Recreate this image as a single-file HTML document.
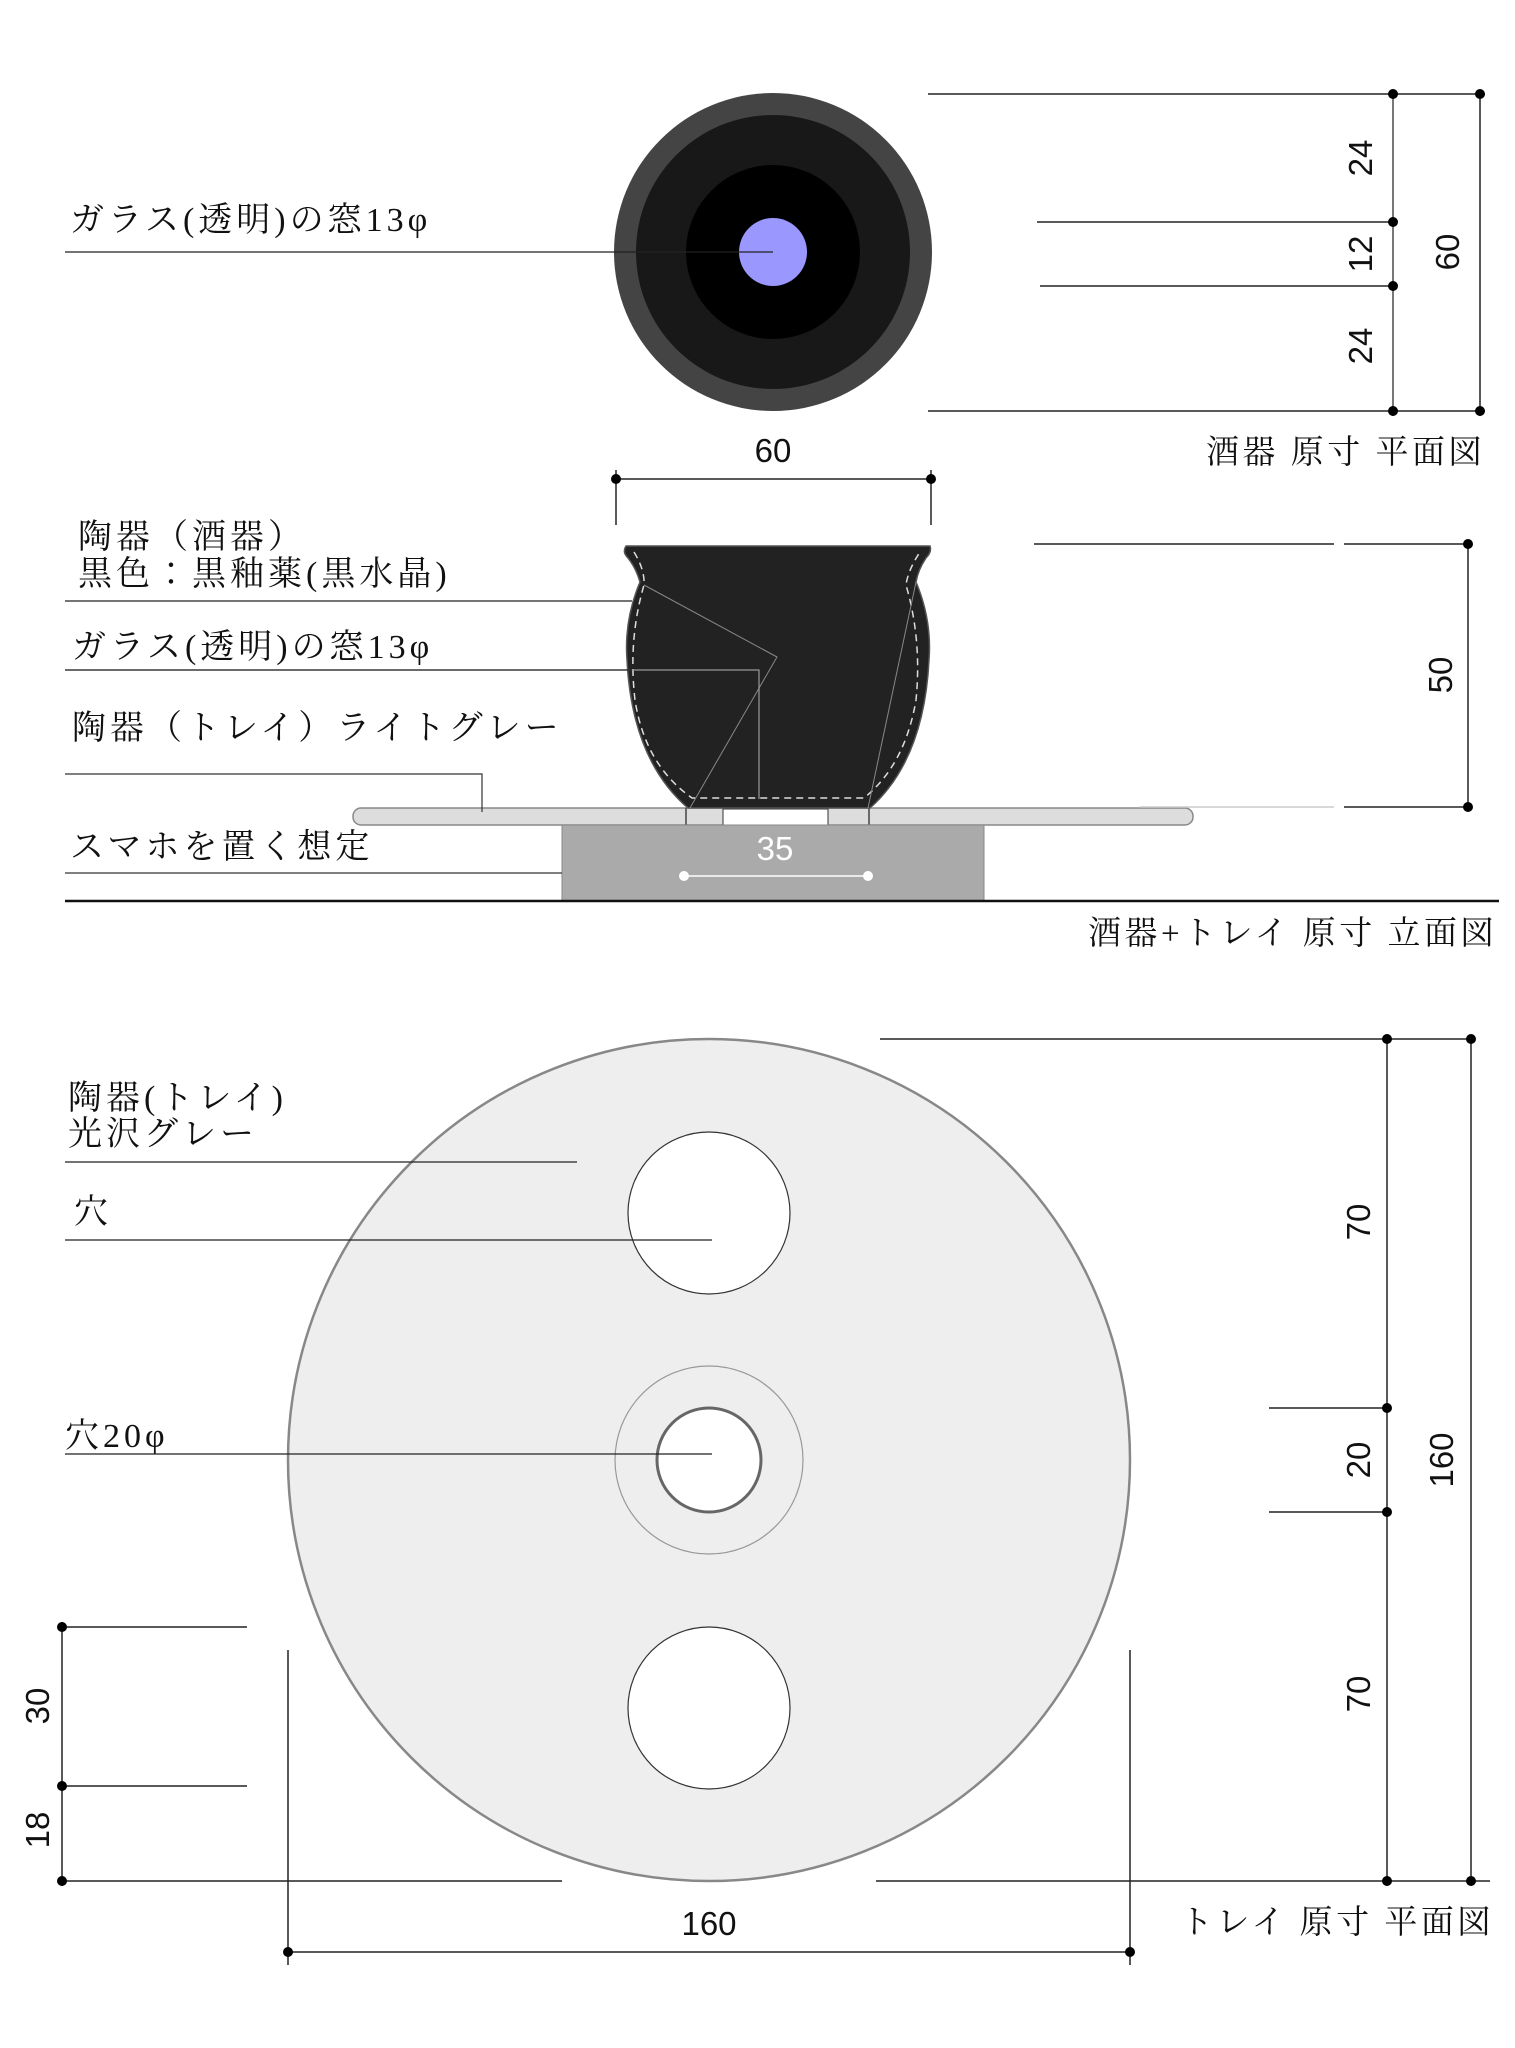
<!DOCTYPE html>
<html><head><meta charset="utf-8"><style>
html,body{margin:0;padding:0;background:#fff;}
svg{display:block;}
.j{font-family:"Liberation Serif","Noto Serif CJK JP",serif;font-size:34px;letter-spacing:4px;fill:#111;}
.t{font-family:"Liberation Serif","Noto Serif CJK JP",serif;font-size:33px;letter-spacing:3.5px;fill:#111;}
.n{font-family:"Liberation Sans",sans-serif;font-size:33px;fill:#111;}
</style></head><body>
<svg width="1515" height="2048" viewBox="0 0 1515 2048" xmlns="http://www.w3.org/2000/svg">
<circle cx="773" cy="252" r="159" fill="#444"/>
<circle cx="773" cy="252" r="137" fill="#181818"/>
<circle cx="773" cy="252" r="87" fill="#000"/>
<circle cx="773" cy="252" r="34" fill="#9a98ff"/>
<line x1="65" y1="252" x2="773" y2="252" stroke="#222" stroke-width="1.2"/>
<text class="j" x="70" y="231">ガラス(透明)の窓13φ</text>
<g stroke="#222" stroke-width="1.5">
<line x1="928" y1="94" x2="1485" y2="94"/>
<line x1="928" y1="411" x2="1485" y2="411"/>
<line x1="1037" y1="222" x2="1395" y2="222"/>
<line x1="1040" y1="286" x2="1395" y2="286"/>
<line x1="1393" y1="90" x2="1393" y2="416" stroke="#777" stroke-width="2"/>
<line x1="1480" y1="90" x2="1480" y2="416"/>
</g>
<g fill="#000"><circle cx="1393" cy="94" r="5"/><circle cx="1480" cy="94" r="5"/><circle cx="1393" cy="222" r="5"/><circle cx="1393" cy="286" r="5"/><circle cx="1393" cy="411" r="5"/><circle cx="1480" cy="411" r="5"/></g>
<g class="n">
<text transform="translate(1372,158) rotate(-90)" text-anchor="middle">24</text>
<text transform="translate(1372,254) rotate(-90)" text-anchor="middle">12</text>
<text transform="translate(1372,346) rotate(-90)" text-anchor="middle">24</text>
<text transform="translate(1459,252) rotate(-90)" text-anchor="middle">60</text>
</g>
<text class="t" x="1206" y="463">酒器 原寸 平面図</text>
<g stroke="#222" stroke-width="1.5">
<line x1="616" y1="479" x2="931" y2="479"/>
<line x1="616" y1="470" x2="616" y2="525"/>
<line x1="931" y1="470" x2="931" y2="525"/>
</g>
<circle cx="616" cy="479" r="5"/><circle cx="931" cy="479" r="5"/>
<text class="n" x="773" y="462" text-anchor="middle">60</text>
<rect x="353" y="808" width="840" height="17" rx="8" fill="#ddd" stroke="#888" stroke-width="1.5"/>
<rect x="723" y="809" width="105" height="16" fill="#fff" stroke="#333" stroke-width="1"/>
<line x1="686" y1="808" x2="686" y2="858" stroke="#444" stroke-width="1.5"/>
<line x1="869" y1="808" x2="869" y2="858" stroke="#444" stroke-width="1.5"/>
<rect x="562" y="825" width="422" height="76" fill="#aaa" stroke="#888" stroke-width="1"/>
<text class="n" x="775" y="860" text-anchor="middle" style="fill:#fff">35</text>
<line x1="684" y1="876" x2="868" y2="876" stroke="#fff" stroke-width="1.5"/>
<circle cx="684" cy="876" r="5" fill="#fff"/><circle cx="868" cy="876" r="5" fill="#fff"/>
<path d="M626 546 L930 546 Q932 552 926 558 Q918 570 916 582 Q932 620 929 660 Q924 760 870 808 L688 808 Q632 760 627 660 Q624 620 640 582 Q636 568 628 558 Q622 552 626 546 Z" fill="#222" stroke="#555" stroke-width="1.5"/>
<path d="M634 552 Q645 570 644 585 Q628 640 635 700 Q645 765 692 798 L864 798 Q905 765 916 700 Q922 640 906 585 Q908 570 920 552" fill="none" stroke="#ddd" stroke-width="1.5" stroke-dasharray="7 5"/>
<polyline points="644,585 777,657 690,808" fill="none" stroke="#888" stroke-width="1"/>
<line x1="916" y1="582" x2="868" y2="808" stroke="#888" stroke-width="1"/>
<text class="j" x="78" y="548">陶器（酒器）</text>
<text class="j" x="78" y="585">黒色：黒釉薬(黒水晶)</text>
<line x1="65" y1="601" x2="632" y2="601" stroke="#222" stroke-width="1.2"/>
<text class="j" x="72" y="658">ガラス(透明)の窓13φ</text>
<polyline points="65,670 759,670 759,799" fill="none" stroke="#999" stroke-width="1.2"/>
<line x1="65" y1="670" x2="632" y2="670" stroke="#222" stroke-width="1.2"/>
<text class="j" x="72" y="739">陶器（トレイ）ライトグレー</text>
<polyline points="65,774 482,774 482,812" fill="none" stroke="#333" stroke-width="1.2"/>
<text class="j" x="70" y="858">スマホを置く想定</text>
<line x1="65" y1="873" x2="562" y2="873" stroke="#333" stroke-width="1.2"/>
<line x1="65" y1="901" x2="1499" y2="901" stroke="#111" stroke-width="2.5"/>
<g stroke="#222" stroke-width="1.5">
<line x1="1034" y1="544" x2="1334" y2="544"/><line x1="1344" y1="544" x2="1470" y2="544"/>
<line x1="1140" y1="807" x2="1334" y2="807" stroke="#ccc"/><line x1="1344" y1="807" x2="1470" y2="807"/>
<line x1="1468" y1="544" x2="1468" y2="807"/>
</g>
<circle cx="1468" cy="544" r="5"/><circle cx="1468" cy="807" r="5"/>
<text class="n" transform="translate(1452,675) rotate(-90)" text-anchor="middle">50</text>
<text class="t" x="1088" y="944">酒器+トレイ 原寸 立面図</text>
<circle cx="709" cy="1460" r="421" fill="#eee" stroke="#888" stroke-width="2.5"/>
<circle cx="709" cy="1213" r="81" fill="#fff" stroke="#333" stroke-width="1.2"/>
<circle cx="709" cy="1708" r="81" fill="#fff" stroke="#333" stroke-width="1.2"/>
<circle cx="709" cy="1460" r="94" fill="none" stroke="#999" stroke-width="1.2"/>
<circle cx="709" cy="1460" r="52" fill="#fff" stroke="#666" stroke-width="3"/>
<text class="j" x="68" y="1109">陶器(トレイ)</text>
<text class="j" x="68" y="1145">光沢グレー</text>
<line x1="65" y1="1162" x2="577" y2="1162" stroke="#222" stroke-width="1.2"/>
<text class="j" x="74" y="1223">穴</text>
<line x1="65" y1="1240" x2="712" y2="1240" stroke="#222" stroke-width="1.2"/>
<text class="j" x="65" y="1447">穴20φ</text>
<line x1="65" y1="1454" x2="712" y2="1454" stroke="#222" stroke-width="1.2"/>
<g stroke="#222" stroke-width="1.5">
<line x1="880" y1="1039" x2="1475" y2="1039"/>
<line x1="1269" y1="1408" x2="1390" y2="1408"/>
<line x1="1269" y1="1512" x2="1390" y2="1512"/>
<line x1="876" y1="1881" x2="1490" y2="1881"/>
<line x1="1387" y1="1035" x2="1387" y2="1886"/>
<line x1="1471" y1="1035" x2="1471" y2="1886"/>
<line x1="62" y1="1622" x2="62" y2="1886"/>
<line x1="62" y1="1627" x2="247" y2="1627"/>
<line x1="62" y1="1786" x2="247" y2="1786"/>
<line x1="62" y1="1881" x2="562" y2="1881"/>
<line x1="288" y1="1650" x2="288" y2="1965"/>
<line x1="1130" y1="1650" x2="1130" y2="1965"/>
<line x1="288" y1="1952" x2="1130" y2="1952"/>
</g>
<g fill="#000">
<circle cx="1387" cy="1039" r="5"/><circle cx="1471" cy="1039" r="5"/><circle cx="1387" cy="1408" r="5"/><circle cx="1387" cy="1512" r="5"/><circle cx="1387" cy="1881" r="5"/><circle cx="1471" cy="1881" r="5"/>
<circle cx="62" cy="1627" r="5"/><circle cx="62" cy="1786" r="5"/><circle cx="62" cy="1881" r="5"/>
<circle cx="288" cy="1952" r="5"/><circle cx="1130" cy="1952" r="5"/>
</g>
<g class="n">
<text transform="translate(1370,1222) rotate(-90)" text-anchor="middle">70</text>
<text transform="translate(1370,1460) rotate(-90)" text-anchor="middle">20</text>
<text transform="translate(1370,1694) rotate(-90)" text-anchor="middle">70</text>
<text transform="translate(1453,1460) rotate(-90)" text-anchor="middle">160</text>
<text transform="translate(49,1706) rotate(-90)" text-anchor="middle">30</text>
<text transform="translate(49,1830) rotate(-90)" text-anchor="middle">18</text>
<text x="709" y="1935" text-anchor="middle">160</text>
</g>
<text class="t" x="1180" y="1933">トレイ 原寸 平面図</text>
</svg>
</body></html>
